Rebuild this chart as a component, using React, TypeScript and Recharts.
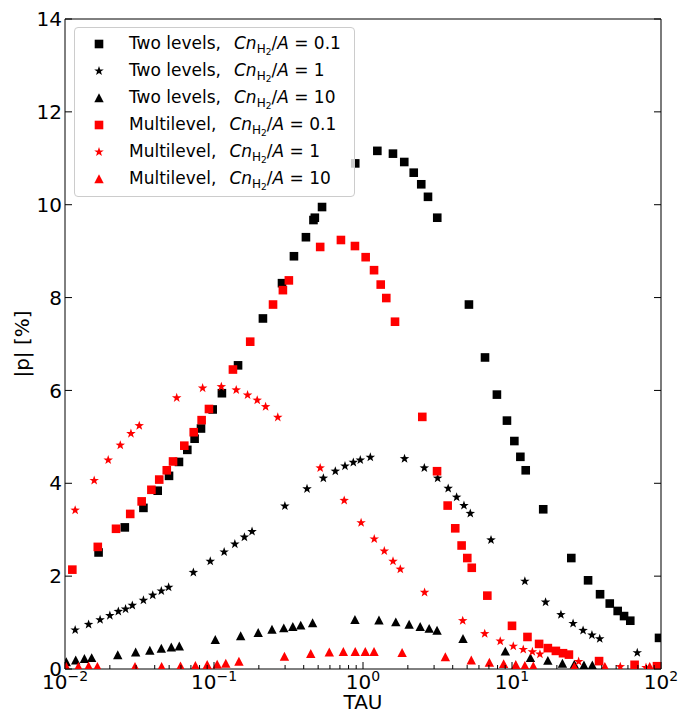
import React from 'react';
import { ScatterChart, Scatter, XAxis, YAxis, Legend } from 'recharts';

const FONT = '"DejaVu Sans", Verdana, sans-serif';

// ---- Data (TAU, |p| [%]) ----
const tauTwo01 = [0.0168, 0.0252, 0.0336, 0.0419, 0.0499, 0.0582, 0.0662, 0.0741, 0.0818, 0.098, 0.113, 0.145, 0.213, 0.286, 0.344, 0.414, 0.465, 0.475, 0.531, 0.887, 1.248, 1.589, 1.892, 2.19, 2.46, 2.73, 3.15, 5.14, 6.59, 7.92, 9.25, 10.37, 11.38, 12.36, 16.2, 25.0, 32.4, 39.0, 45.3, 51.2, 56.5, 62.2, 97];
const pTwo01 = [2.51, 3.05, 3.47, 3.84, 4.16, 4.46, 4.72, 4.96, 5.18, 5.59, 5.94, 6.54, 7.55, 8.31, 8.89, 9.30, 9.67, 9.72, 9.95, 10.89, 11.16, 11.10, 10.92, 10.69, 10.44, 10.17, 9.72, 7.85, 6.71, 5.91, 5.35, 4.91, 4.57, 4.28, 3.44, 2.39, 1.91, 1.61, 1.41, 1.25, 1.14, 1.04, 0.67];

const tauTwo1 = [0.0117, 0.0144, 0.0172, 0.0200, 0.0228, 0.0255, 0.0283, 0.0336, 0.0388, 0.0443, 0.0496, 0.0727, 0.0944, 0.117, 0.138, 0.160, 0.180, 0.299, 0.421, 0.542, 0.652, 0.757, 0.861, 0.959, 1.12, 1.90, 2.58, 3.17, 3.73, 4.25, 4.76, 5.25, 7.23, 12.2, 16.8, 21.3, 25.7, 30.0, 34.4, 38.8, 69.3];
const pTwo1 = [0.84, 0.96, 1.06, 1.15, 1.24, 1.29, 1.37, 1.48, 1.59, 1.68, 1.76, 2.08, 2.32, 2.52, 2.69, 2.84, 2.96, 3.51, 3.88, 4.11, 4.26, 4.37, 4.45, 4.50, 4.56, 4.53, 4.33, 4.11, 3.89, 3.70, 3.52, 3.35, 2.78, 1.89, 1.44, 1.17, 0.98, 0.83, 0.73, 0.65, 0.35];

const tauTwo10 = [0.0102, 0.0118, 0.0135, 0.0151, 0.0226, 0.0298, 0.0371, 0.0443, 0.0517, 0.0585, 0.102, 0.151, 0.198, 0.245, 0.294, 0.338, 0.382, 0.459, 0.883, 1.28, 1.66, 2.04, 2.42, 2.78, 3.14, 4.69, 9.02, 13.3, 17.4, 21.8, 26.2, 30.4, 34.6];
const pTwo10 = [0.15, 0.19, 0.22, 0.24, 0.30, 0.36, 0.40, 0.44, 0.47, 0.49, 0.63, 0.71, 0.78, 0.85, 0.88, 0.91, 0.94, 0.99, 1.06, 1.05, 1.01, 0.96, 0.91, 0.87, 0.83, 0.65, 0.38, 0.24, 0.18, 0.12, 0.10, 0.08, 0.08];

const tauMulti01 = [0.0112, 0.0166, 0.022, 0.0274, 0.0327, 0.038, 0.0429, 0.0482, 0.0531, 0.0632, 0.0731, 0.0826, 0.0925, 0.134, 0.175, 0.249, 0.29, 0.318, 0.516, 0.711, 0.883, 1.042, 1.186, 1.315, 1.433, 1.64, 2.50, 3.14, 3.70, 4.16, 4.59, 5.01, 5.37, 6.83, 10.0, 12.7, 15.2, 17.4, 19.7, 22.0, 24.1, 38.4, 66.5, 94];
const pMulti01 = [2.14, 2.63, 3.02, 3.34, 3.61, 3.86, 4.08, 4.28, 4.47, 4.81, 5.10, 5.36, 5.60, 6.45, 7.05, 7.85, 8.16, 8.37, 9.09, 9.24, 9.11, 8.87, 8.59, 8.28, 7.99, 7.48, 5.43, 4.26, 3.52, 3.03, 2.66, 2.39, 2.18, 1.58, 0.93, 0.69, 0.54, 0.45, 0.39, 0.34, 0.31, 0.17, 0.09, 0.06];

const tauMulti1 = [0.0117, 0.0157, 0.0195, 0.0235, 0.0277, 0.0315, 0.0562, 0.0839, 0.112, 0.141, 0.168, 0.195, 0.222, 0.268, 0.516, 0.748, 0.971, 1.19, 1.39, 1.59, 1.78, 2.59, 4.67, 6.56, 8.34, 10.2, 11.9, 13.7, 15.4, 28.0, 53.3, 79.3];
const pMulti1 = [3.42, 4.06, 4.50, 4.82, 5.07, 5.24, 5.84, 6.05, 6.08, 6.01, 5.90, 5.79, 5.65, 5.42, 4.33, 3.63, 3.15, 2.80, 2.54, 2.32, 2.15, 1.65, 1.04, 0.76, 0.60, 0.49, 0.42, 0.37, 0.32, 0.16, 0.05, 0.03];

const tauMulti10 = [0.0102, 0.0123, 0.0144, 0.0165, 0.0295, 0.0445, 0.0596, 0.075, 0.090, 0.105, 0.120, 0.147, 0.297, 0.446, 0.594, 0.738, 0.887, 1.036, 1.186, 1.83, 3.57, 5.33, 7.05, 8.79, 10.6, 12.2, 13.9, 26.2, 42, 84];
const pMulti10 = [0.05, 0.05, 0.06, 0.05, 0.05, 0.05, 0.06, 0.07, 0.09, 0.10, 0.12, 0.16, 0.27, 0.33, 0.36, 0.37, 0.37, 0.37, 0.37, 0.35, 0.26, 0.19, 0.14, 0.11, 0.09, 0.07, 0.06, 0.05, 0.05, 0.05];

// ---- Axis ticks ----
const xMajorTicks = [0.01, 0.1, 1, 10, 100];
const xMinorTicks = [0.02, 0.03, 0.04, 0.05, 0.06, 0.07, 0.08, 0.09, 0.2, 0.3, 0.4, 0.5, 0.6, 0.7, 0.8, 0.9, 2, 3, 4, 5, 6, 7, 8, 9, 20, 30, 40, 50, 60, 70, 80, 90];
const yTicks = [0, 2, 4, 6, 8, 10, 12, 14];

const legendLabels = ['Two levels,', 'Two levels,', 'Two levels,', 'Multilevel,', 'Multilevel,', 'Multilevel,'];
const legendValues = ['0.1', '1', '10', '0.1', '1', '10'];

const xAllTicks = [...xMajorTicks, ...xMinorTicks].sort((a, b) => a - b);
const isMajor = (v: number) => xMajorTicks.some((m) => Math.abs(m - v) / m < 1e-6);

const zip = (t: number[], p: number[]) => t.map((tau, i) => ({ tau, p: p[i] }));

type Kind = 'square' | 'star' | 'triangle';

const series: { key: string; color: string; kind: Kind; data: { tau: number; p: number }[] }[] = [
  { key: 'two01', color: '#000000', kind: 'square', data: zip(tauTwo01, pTwo01) },
  { key: 'two1', color: '#000000', kind: 'star', data: zip(tauTwo1, pTwo1) },
  { key: 'two10', color: '#000000', kind: 'triangle', data: zip(tauTwo10, pTwo10) },
  { key: 'multi01', color: '#ff0000', kind: 'square', data: zip(tauMulti01, pMulti01) },
  { key: 'multi1', color: '#ff0000', kind: 'star', data: zip(tauMulti1, pMulti1) },
  { key: 'multi10', color: '#ff0000', kind: 'triangle', data: zip(tauMulti10, pMulti10) },
];

function starPoints(cx: number, cy: number, R: number, r: number) {
  const pts: string[] = [];
  for (let k = 0; k < 10; k++) {
    const ang = -Math.PI / 2 + (k * Math.PI) / 5;
    const rad = k % 2 === 0 ? R : r;
    pts.push(`${cx + rad * Math.cos(ang)},${cy + rad * Math.sin(ang)}`);
  }
  return pts.join(' ');
}

function MarkerShape({ kind, color, cx, cy }: { kind: Kind; color: string; cx: number; cy: number }) {
  if (cx == null || cy == null || isNaN(cx) || isNaN(cy)) return null;
  if (kind === 'square') {
    return <rect x={cx - 4.3} y={cy - 4.3} width={8.6} height={8.6} fill={color} />;
  }
  if (kind === 'triangle') {
    return <polygon points={`${cx},${cy - 4.7} ${cx - 4.7},${cy + 4.2} ${cx + 4.7},${cy + 4.2}`} fill={color} />;
  }
  return <polygon points={starPoints(cx, cy, 5.0, 2.0)} fill={color} />;
}

// bottom axis: tick line inward + mathtext-like 10^n label
const XTickBottom = (props: any) => {
  const { x, y, payload } = props;
  const major = isMajor(payload.value);
  const len = major ? 7 : 4;
  const e = Math.round(Math.log10(payload.value));
  const sup = e < 0 ? '\u2212' + Math.abs(e) : String(e);
  return (
    <g>
      <line x1={x} y1={y} x2={x} y2={y - len} stroke="#000" strokeWidth={1} />
      {major && (
        <text x={x} y={y + 20} textAnchor="middle" fontSize={20} fontFamily={FONT} fill="#000">
          10
          <tspan dy={-8} fontSize={14}>{sup}</tspan>
        </text>
      )}
    </g>
  );
};

const XTickTop = (props: any) => {
  const { x, y, payload } = props;
  const len = isMajor(payload.value) ? 7 : 4;
  return <line x1={x} y1={y} x2={x} y2={y + len} stroke="#000" strokeWidth={1} />;
};

const YTickLeft = (props: any) => {
  const { x, y, payload } = props;
  return (
    <g>
      <line x1={x} y1={y} x2={x + 7} y2={y} stroke="#000" strokeWidth={1} />
      <text x={x - 3} y={y} dy="0.36em" textAnchor="end" fontSize={20} fontFamily={FONT} fill="#000">
        {payload.value}
      </text>
    </g>
  );
};

const YTickRight = (props: any) => {
  const { x, y } = props;
  return <line x1={x} y1={y} x2={x - 7} y2={y} stroke="#000" strokeWidth={1} />;
};

const LegendContent = () => (
  <div
    style={{
      boxSizing: 'border-box',
      width: 281,
      height: 170,
      border: '1px solid #cccccc',
      borderRadius: 4,
      background: 'rgba(255,255,255,0.8)',
      paddingTop: 2,
      fontFamily: FONT,
    }}
  >
    {series.map((s, i) => (
      <div key={s.key} style={{ position: 'relative', height: 27 }}>
        <svg width={14} height={14} style={{ position: 'absolute', left: 16.5, top: 6.5 }}>
          <MarkerShape kind={s.kind} color={s.color} cx={7} cy={7} />
        </svg>
        <div
          style={{
            position: 'absolute',
            left: 54,
            top: 0,
            height: 27,
            lineHeight: '27px',
            fontSize: 17,
            color: '#000',
            whiteSpace: 'pre',
          }}
        >
          {legendLabels[i]}
          <span style={{ display: 'inline-block', width: 13 }} />
          <i>Cn</i>
          <span style={{ fontSize: 12, position: 'relative', top: 4 }}>
            H<span style={{ fontSize: 9, position: 'relative', top: 2 }}>2</span>
          </span>
          /<i>A</i>
          {' = ' + legendValues[i]}
        </div>
      </div>
    ))}
  </div>
);

const XLabel = (props: any) => {
  const vb = props.viewBox || { x: 65, y: 669, width: 596 };
  return (
    <text x={vb.x + vb.width / 2} y={vb.y + 40} textAnchor="middle" fontSize={20} fontFamily={FONT} fill="#000">
      TAU
    </text>
  );
};

const YLabel = (props: any) => {
  const vb = props.viewBox || { x: 64, y: 19, width: 1, height: 650 };
  const cx = vb.x + (vb.width || 0) - 43;
  const cy = vb.y + vb.height / 2;
  return (
    <text
      x={cx}
      y={cy}
      transform={`rotate(-90, ${cx}, ${cy})`}
      textAnchor="middle"
      dominantBaseline="central"
      fontSize={20}
      fontFamily={FONT}
      fill="#000"
    >
      |p| [%]
    </text>
  );
};

export default function App() {
  return (
    <div style={{ position: 'absolute', left: 0, top: 0, background: '#fff' }}>
      <ScatterChart width={678} height={710} margin={{ top: 18, right: 16, bottom: 40, left: 64 }}>
        <XAxis
          xAxisId="main"
          dataKey="tau"
          type="number"
          scale="log"
          domain={[0.01, 100]}
          allowDataOverflow
          ticks={xAllTicks}
          interval={0}
          height={1}
          axisLine={{ stroke: '#000', strokeWidth: 1 }}
          tickLine={false}
          tickSize={0}
          tickMargin={0}
          tick={<XTickBottom />}
          label={<XLabel />}
        />
        <XAxis
          xAxisId="top"
          orientation="top"
          type="number"
          scale="log"
          domain={[0.01, 100]}
          allowDataOverflow
          ticks={xAllTicks}
          interval={0}
          height={1}
          axisLine={{ stroke: '#000', strokeWidth: 1 }}
          tickLine={false}
          tickSize={0}
          tickMargin={0}
          tick={<XTickTop />}
        />
        <YAxis
          yAxisId="left"
          dataKey="p"
          type="number"
          domain={[0, 14]}
          allowDataOverflow
          ticks={yTicks}
          interval={0}
          width={1}
          axisLine={{ stroke: '#000', strokeWidth: 1 }}
          tickLine={false}
          tickSize={0}
          tickMargin={0}
          tick={<YTickLeft />}
          label={<YLabel />}
        />
        <YAxis
          yAxisId="right"
          orientation="right"
          type="number"
          domain={[0, 14]}
          allowDataOverflow
          ticks={yTicks}
          interval={0}
          width={1}
          axisLine={{ stroke: '#444', strokeWidth: 1.4 }}
          tickLine={false}
          tickSize={0}
          tickMargin={0}
          tick={<YTickRight />}
        />
        {series.map((s) => (
          <Scatter
            key={s.key}
            name={s.key}
            data={s.data}
            xAxisId="main"
            yAxisId="left"
            fill={s.color}
            isAnimationActive={false}
            shape={(props: any) => <MarkerShape kind={s.kind} color={s.color} cx={props.cx} cy={props.cy} />}
          />
        ))}
        <Legend
          layout="vertical"
          align="center"
          verticalAlign="middle"
          wrapperStyle={{ left: 74, top: 27, width: 281, height: 170 }}
          content={<LegendContent />}
        />
      </ScatterChart>
    </div>
  );
}
